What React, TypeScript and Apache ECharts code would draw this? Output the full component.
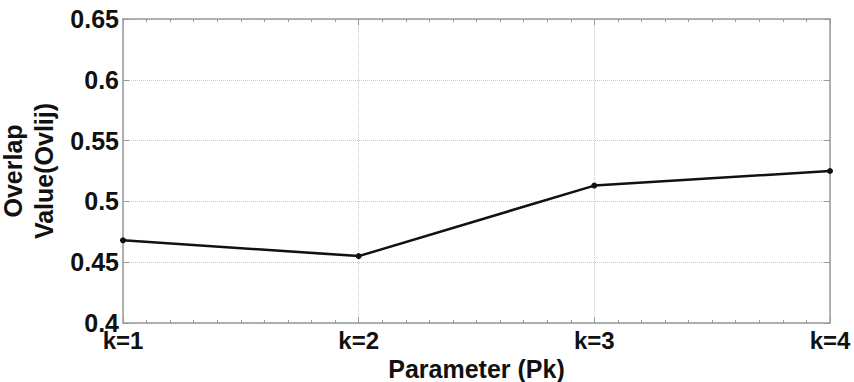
import React, { useEffect, useRef } from "react";
import * as echarts from "echarts";

const categories = ["k=1", "k=2", "k=3", "k=4"];
const overlapValues = [0.468, 0.455, 0.513, 0.525];
const yTicks = [0.4, 0.45, 0.5, 0.55, 0.6, 0.65];

const FONT = "'Liberation Sans', Arial, sans-serif";
const AXIS_COLOR = "#9a9a9a";

export default function App() {
  const ref = useRef<HTMLDivElement>(null);
  useEffect(() => {
    if (!ref.current) return;
    const chart = echarts.init(ref.current, undefined, { renderer: "svg" });
    const yMin = yTicks[0];
    const yMax = yTicks[yTicks.length - 1];
    const yInterval = 0.05;
    const fmtY = (v: number) => String(parseFloat(v.toFixed(2)));
    const baseX = {
      type: "value" as const,
      min: 1,
      max: categories.length,
      interval: 1,
      axisLine: { show: true, onZero: false, lineStyle: { color: AXIS_COLOR, width: 1.5 } },
      axisTick: { show: true, inside: true, length: 6, lineStyle: { color: AXIS_COLOR, width: 1 } },
      minorTick: { show: true, splitNumber: 10, length: 3, lineStyle: { color: AXIS_COLOR, width: 1 } },
    };
    chart.setOption({
      animation: false,
      backgroundColor: "#ffffff",
      grid: { left: 123, right: 24, top: 19, bottom: 59, containLabel: false, outerBoundsMode: "none" },
      xAxis: [
        {
          ...baseX,
          position: "bottom",
          name: "Parameter (Pk)",
          nameLocation: "middle",
          nameGap: 27,
          nameTextStyle: {
            color: "#111",
            fontFamily: FONT,
            fontWeight: "bold",
            fontSize: 25,
            lineHeight: 25,
            verticalAlign: "top",
          },
          axisLabel: {
            color: "#111",
            fontFamily: FONT,
            fontWeight: "bold",
            fontSize: 24,
            margin: 5,
            formatter: (v: number) => categories[Math.round(v) - 1] ?? "",
          },
          splitLine: { show: true, lineStyle: { color: "#c8c8c8", type: "dotted", width: 1 } },
        },
        {
          ...baseX,
          position: "top",
          axisLabel: { show: false },
          splitLine: { show: false },
        },
      ],
      yAxis: [
        {
          type: "value",
          position: "left",
          min: yMin,
          max: yMax,
          interval: yInterval,
          name: "Overlap\nValue(Ovlij)",
          nameLocation: "middle",
          nameGap: 61,
          nameRotate: 90,
          nameTextStyle: {
            color: "#111",
            fontFamily: FONT,
            fontWeight: "bold",
            fontSize: 25,
            lineHeight: 31,
            align: "center",
          },
          axisLine: { show: true, lineStyle: { color: AXIS_COLOR, width: 1.5 } },
          axisTick: { show: true, inside: true, length: 6, lineStyle: { color: AXIS_COLOR } },
          axisLabel: {
            color: "#111",
            fontFamily: FONT,
            fontWeight: "bold",
            fontSize: 25,
            margin: 4,
            formatter: fmtY,
          },
          splitLine: { show: true, lineStyle: { color: "#c8c8c8", type: "dotted", width: 1 } },
        },
        {
          type: "value",
          position: "right",
          min: yMin,
          max: yMax,
          interval: yInterval,
          axisLine: { show: true, lineStyle: { color: AXIS_COLOR, width: 1.5 } },
          axisTick: { show: true, inside: true, length: 6, lineStyle: { color: AXIS_COLOR } },
          axisLabel: { show: false },
          splitLine: { show: false },
        },
      ],
      series: [
        {
          type: "line",
          xAxisIndex: 0,
          yAxisIndex: 0,
          data: categories.map((c, i) => [i + 1, overlapValues[i]]),
          symbol: "circle",
          symbolSize: 6,
          lineStyle: { color: "#111", width: 2.5 },
          itemStyle: { color: "#111" },
        },
      ],
    });
    return () => chart.dispose();
  }, []);
  return (
    <div
      ref={ref}
      style={{ position: "fixed", left: 0, top: 0, width: 854, height: 382, background: "#fff" }}
    />
  );
}
